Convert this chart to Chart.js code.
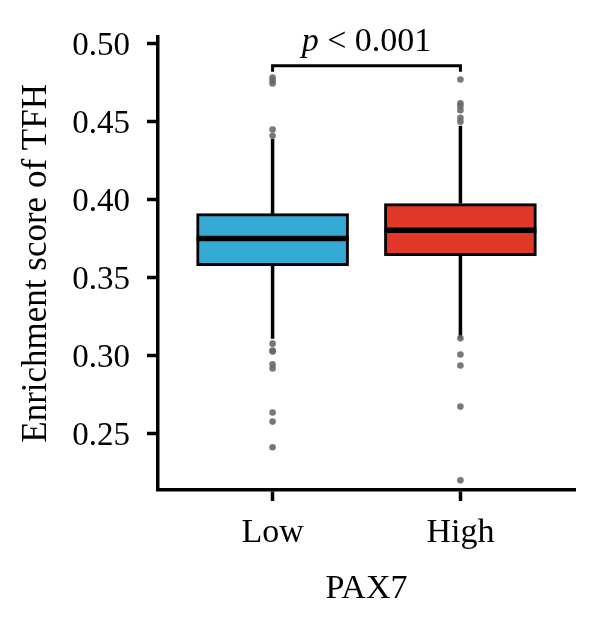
<!DOCTYPE html>
<html lang="en">
<head>
    <meta charset="UTF-8">
    <title>Enrichment score of TFH by PAX7</title>
    <script src="https://cdn.jsdelivr.net/npm/chart.js"></script>
    <style>
        body { margin: 0; background: #fff; }
        #wrap { width: 600px; height: 621px; }
    </style>
</head>
<body>
    <div id="wrap">
        <canvas id="myChart" width="600" height="621"></canvas>
    </div>

    <script>
        // groups and box statistics
        const categorias = ['Low', 'High'];
        const posicoes = [1, 2];
        const q1 = [0.3576, 0.3640];
        const mediana = [0.3750, 0.3803];
        const q3 = [0.3910, 0.3975];
        const bigodeInf = [0.3108, 0.3108];
        const bigodeSup = [0.4390, 0.4475];
        const outliersLow = [0.4784, 0.4765, 0.4746, 0.4450, 0.4410, 0.3076, 0.3032, 0.3025, 0.2943, 0.2917, 0.2634, 0.2576, 0.2411];
        const outliersHigh = [0.4771, 0.4618, 0.4600, 0.4574, 0.4526, 0.4500, 0.3110, 0.3006, 0.2936, 0.2672, 0.2199];
        const yTicks = [0.25, 0.30, 0.35, 0.40, 0.45, 0.50];
        const pTexto = '< 0.001';
        const colchete = [0.486, 0.482]; // bracket top / bracket foot

        const cores = ['#35aad4', '#e2382a'];
        const fonte = "'Liberation Serif', 'DejaVu Serif', serif";

        const caixas = posicoes.map((x, i) => ({ x: x, y: [q1[i], q3[i]] }));

        const boxPlugin = {
            id: 'boxExtras',
            beforeDatasetsDraw(chart) {
                const { ctx, scales: { x, y } } = chart;
                ctx.save();
                ctx.strokeStyle = '#000';
                ctx.lineWidth = 3.5;
                posicoes.forEach((p, i) => {
                    const px = x.getPixelForValue(p);
                    ctx.beginPath();
                    ctx.moveTo(px, y.getPixelForValue(q3[i]));
                    ctx.lineTo(px, y.getPixelForValue(bigodeSup[i]));
                    ctx.moveTo(px, y.getPixelForValue(q1[i]));
                    ctx.lineTo(px, y.getPixelForValue(bigodeInf[i]));
                    ctx.stroke();
                });
                ctx.restore();
            },
            afterDatasetDraw(chart, args) {
                if (chart.data.datasets[args.index].type !== 'bar') return;
                const { ctx, scales: { y } } = chart;
                const meta = chart.getDatasetMeta(args.index);
                ctx.save();
                ctx.strokeStyle = '#000';
                ctx.lineWidth = 5.5;
                meta.data.forEach((bar, i) => {
                    const my = y.getPixelForValue(mediana[i]);
                    ctx.beginPath();
                    ctx.moveTo(bar.x - bar.width / 2, my);
                    ctx.lineTo(bar.x + bar.width / 2, my);
                    ctx.stroke();
                });
                ctx.restore();
            },
            afterDraw(chart) {
                const { ctx, scales: { x, y } } = chart;
                const x1 = x.getPixelForValue(posicoes[0]);
                const x2 = x.getPixelForValue(posicoes[1]);
                const yt = y.getPixelForValue(colchete[0]);
                const yb = y.getPixelForValue(colchete[1]);
                ctx.save();
                ctx.strokeStyle = '#000';
                ctx.lineWidth = 3;
                ctx.beginPath();
                ctx.moveTo(x1, yb);
                ctx.lineTo(x1, yt);
                ctx.lineTo(x2, yt);
                ctx.lineTo(x2, yb);
                ctx.stroke();

                // p-value label, "p" in italics
                ctx.fillStyle = '#000';
                ctx.textBaseline = 'alphabetic';
                const fItal = 'italic 34px ' + fonte;
                const fNorm = '34px ' + fonte;
                ctx.font = fItal;
                const wp = ctx.measureText('p').width;
                ctx.font = fNorm;
                const wr = ctx.measureText(' ' + pTexto).width;
                const inicio = (x1 + x2) / 2 - (wp + wr) / 2;
                const base = yt - 15;
                ctx.font = fItal;
                ctx.fillText('p', inicio, base);
                ctx.font = fNorm;
                ctx.fillText(' ' + pTexto, inicio + wp, base);
                ctx.restore();
            }
        };

        const ctx = document.getElementById('myChart').getContext('2d');

        new Chart(ctx, {
            type: 'bar',
            data: {
                datasets: [
                    {
                        type: 'scatter',
                        data: outliersLow.map(v => ({ x: posicoes[0], y: v })),
                        backgroundColor: 'rgba(105,105,105,0.9)',
                        borderWidth: 0,
                        pointRadius: 3.3
                    },
                    {
                        type: 'scatter',
                        data: outliersHigh.map(v => ({ x: posicoes[1], y: v })),
                        backgroundColor: 'rgba(105,105,105,0.9)',
                        borderWidth: 0,
                        pointRadius: 3.3
                    },
                    {
                        type: 'bar',
                        data: caixas,
                        backgroundColor: cores,
                        borderColor: '#000',
                        borderWidth: 3,
                        borderSkipped: false,
                        barThickness: 152
                    }
                ]
            },
            options: {
                responsive: false,
                animation: false,
                layout: { padding: { top: 33, right: 25, left: 0, bottom: 0 } },
                plugins: {
                    legend: { display: false },
                    tooltip: { enabled: false }
                },
                scales: {
                    x: {
                        type: 'linear',
                        offset: false,
                        min: 0.39,
                        max: 2.61,
                        afterBuildTicks: s => { s.ticks = posicoes.map(v => ({ value: v })); },
                        afterFit: s => { s.height = 131; },
                        ticks: {
                            callback: v => categorias[posicoes.indexOf(v)] || '',
                            color: '#000',
                            font: { family: fonte, size: 34 },
                            padding: 12,
                            maxRotation: 0
                        },
                        grid: {
                            offset: false,
                            drawOnChartArea: false,
                            drawTicks: true,
                            tickLength: 11,
                            tickWidth: 3.5,
                            tickColor: '#000'
                        },
                        border: { display: true, width: 3.5, color: '#000' },
                        title: {
                            display: true,
                            text: 'PAX7',
                            color: '#000',
                            font: { family: fonte, size: 34 },
                            padding: { top: 0, bottom: 12 }
                        }
                    },
                    y: {
                        min: 0.2137,
                        max: 0.5045,
                        afterBuildTicks: s => { s.ticks = yTicks.map(v => ({ value: v })); },
                        afterFit: s => { s.width = 158; },
                        ticks: {
                            callback: v => v.toFixed(2),
                            color: '#000',
                            font: { family: fonte, size: 33 },
                            padding: 17,
                            labelOffset: 3
                        },
                        grid: {
                            drawOnChartArea: false,
                            drawTicks: true,
                            tickLength: 11,
                            tickWidth: 3.5,
                            tickColor: '#000'
                        },
                        border: { display: true, width: 3.5, color: '#000' },
                        title: {
                            display: true,
                            text: 'Enrichment score of TFH',
                            color: '#000',
                            font: { family: fonte, size: 35 },
                            padding: { top: 16, bottom: 0 }
                        }
                    }
                }
            },
            plugins: [boxPlugin]
        });
    </script>
</body>
</html>
